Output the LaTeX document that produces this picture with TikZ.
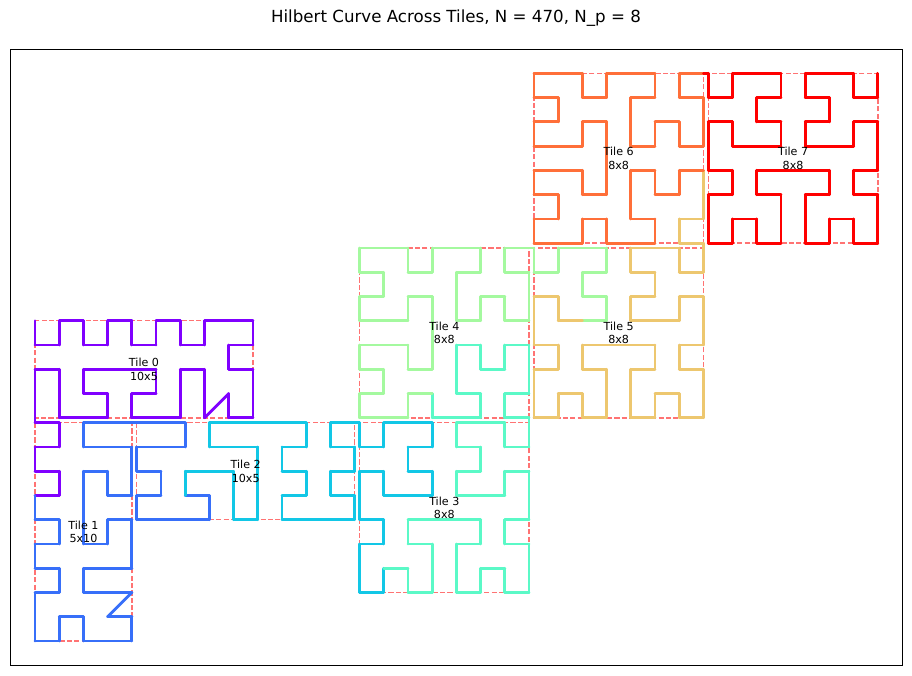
\documentclass[tikz,border=0pt]{standalone}
\usepackage{fontspec}
\setmainfont{DejaVu Sans}
\usepackage{tikz}

% rainbow colours of the 8 partitions
\definecolor{part0}{rgb}{0.5,0,1}
\definecolor{part1}{rgb}{0.2143,0.4339,0.9749}
\definecolor{part2}{rgb}{0.0714,0.7818,0.9010}
\definecolor{part3}{rgb}{0.3571,0.9749,0.7818}
\definecolor{part4}{rgb}{0.6429,0.9749,0.6235}
\definecolor{part5}{rgb}{0.9286,0.7818,0.4339}
\definecolor{part6}{rgb}{1,0.4339,0.2225}
\definecolor{part7}{rgb}{1,0,0}

% order-3 Hilbert curve on an 8x8 grid
\newcommand{\hilbertpoints}{0/0,0/1,1/1,1/0,2/0,3/0,3/1,2/1,2/2,3/2,3/3,2/3,1/3,1/2,0/2,0/3,0/4,1/4,1/5,0/5,0/6,0/7,1/7,1/6,2/6,2/7,3/7,3/6,3/5,2/5,2/4,3/4,4/4,5/4,5/5,4/5,4/6,4/7,5/7,5/6,6/6,6/7,7/7,7/6,7/5,6/5,6/4,7/4,7/3,7/2,6/2,6/3,5/3,4/3,4/2,5/2,5/1,4/1,4/0,5/0,6/0,6/1,7/1,7/0}

% one step of the curve: global index, x, y
\newcommand{\hilbertstep}[3]{%
  \pgfmathtruncatemacro{\pidx}{min(floor(#1/58),7)}%
  \ifnum#1=0
    \coordinate (prev) at (#2,#3);
  \else
    \draw[curve, part\pidx] (prev) -- (#2,#3) coordinate (prev);
  \fi}

\begin{document}
\begin{tikzpicture}[x=0.72pt, y=-0.72pt,
    curve/.style={line width=2pt, line cap=round, line join=round},
    tile_box/.style={draw=red!55, line width=1pt, dash pattern=on 3.7pt off 1.6pt},
    tile_label/.style={align=center, font=\fontsize{8}{9.6}\selectfont, inner sep=0pt},
    title_text/.style={font=\fontsize{12}{14.4}\selectfont, inner sep=0pt}
]
\useasboundingbox (0,0) rectangle (912,675);

% Title
\node (title) [title_text, anchor=base] at (456,22) {Hilbert Curve Across Tiles, N = 470, N\_p = 8};

% Axes frame
\draw[line width=0.7pt] (10,49) rectangle (902,665);

\begin{scope}[shift={(35,641)}, x=17.438pt, y=17.467pt]

% Tile boxes
\foreach \tu/\tv/\ncol/\nrow in {0/13.2/10/5, 0/9/5/10, 4.2/9/10/5, 13.4/9/8/8, 13.4/16.2/8/8, 20.6/16.2/8/8, 20.6/23.4/8/8, 27.8/23.4/8/8} {
  \draw[tile_box] (\tu,\tv) rectangle ++(\ncol-1,1-\nrow);
}

% Tile 0 (10x5)
\foreach \cc/\rr [count=\k from 0] in {0/0,0/1,1/1,1/0,2/0,2/1,3/1,3/0,4/0,4/1,5/1,5/0,6/0,6/1,7/1,7/0,8/0,9/0,9/1,8/1,8/2,9/2,9/3,9/4,8/4,8/3,7/4,7/3,7/2,6/2,6/3,6/4,5/4,4/4,4/3,5/3,5/2,4/2,3/2,2/2,2/3,3/3,3/4,2/4,1/4,1/3,1/2,0/2,0/3,0/4} {
  \hilbertstep{\k}{\cc}{13.2-\rr}
}

% Tile 1 (5x10)
\foreach \cc/\rr [count=\k from 50] in {0/0,1/0,1/1,0/1,0/2,1/2,1/3,0/3,0/4,1/4,1/5,0/5,0/6,1/6,1/7,0/7,0/8,0/9,1/9,1/8,2/8,2/9,3/9,4/9,4/8,3/8,4/7,3/7,2/7,2/6,3/6,4/6,4/5,4/4,3/4,3/5,2/5,2/4,2/3,2/2,3/2,3/3,4/3,4/2,4/1,3/1,2/1,2/0,3/0,4/0} {
  \hilbertstep{\k}{\cc}{9-\rr}
}

% Tile 2 (10x5)
\foreach \cc/\rr [count=\k from 100] in {0/0,1/0,2/0,2/1,1/1,0/1,0/2,1/2,1/3,0/3,0/4,1/4,2/4,3/4,3/3,2/3,2/2,3/2,4/2,4/3,4/4,5/4,5/3,5/2,5/1,4/1,3/1,3/0,4/0,5/0,6/0,7/0,7/1,6/1,6/2,7/2,7/3,6/3,6/4,7/4,8/4,9/4,9/3,8/3,8/2,9/2,9/1,8/1,8/0,9/0} {
  \hilbertstep{\k}{4.2+\cc}{9-\rr}
}

% Tiles 3 to 7 (8x8), turned where needed
\foreach \tu/\tv/\m/\first in {13.4/9/1/150, 13.4/16.2/0/214, 20.6/16.2/1/278, 20.6/23.4/0/342, 27.8/23.4/1/406} {
  \foreach \hx/\hy [count=\k from 0] in \hilbertpoints {
    \pgfmathtruncatemacro{\g}{\first+\k}
    \pgfmathsetmacro{\cc}{\m*\hx+(1-\m)*(7-\hy)}
    \pgfmathsetmacro{\rr}{\m*\hy+(1-\m)*(7-\hx)}
    \hilbertstep{\g}{\tu+\cc}{\tv-\rr}
  }
}

% Tile labels
\foreach \tu/\tv/\ncol/\nrow [count=\tn from 0] in {0/13.2/10/5, 0/9/5/10, 4.2/9/10/5, 13.4/9/8/8, 13.4/16.2/8/8, 20.6/16.2/8/8, 20.6/23.4/8/8, 27.8/23.4/8/8} {
  \node (tile\tn) [tile_label] at ({\tu+(\ncol-1)/2},{\tv-(\nrow-1)/2}) {Tile \tn\\\ncol x\nrow};
}

\end{scope}
\end{tikzpicture}
\end{document}
